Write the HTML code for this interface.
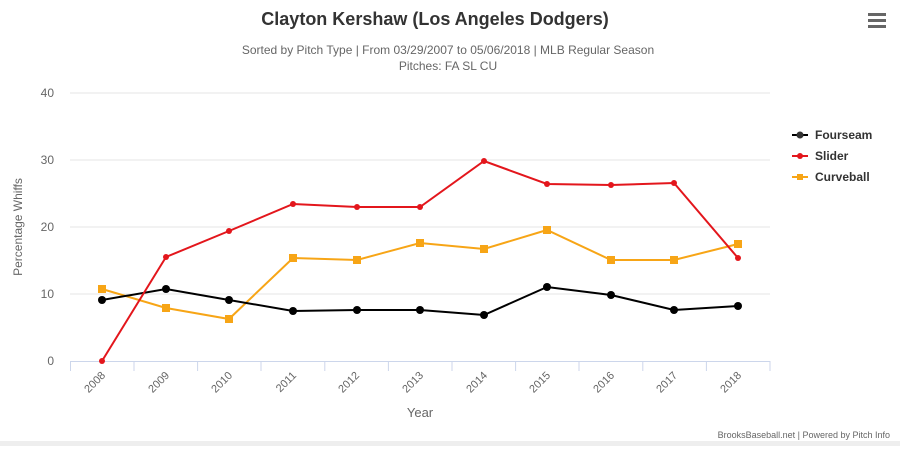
<!DOCTYPE html><html><head><style>body{margin:0;background:#fff;width:900px;height:446px;overflow:hidden;font-family:"Liberation Sans",sans-serif}</style></head><body>
<svg width="900" height="446" xmlns="http://www.w3.org/2000/svg" font-family="Liberation Sans, sans-serif">
<rect x="0" y="441" width="900" height="5" fill="#eee"/>
<text x="435" y="25" text-anchor="middle" font-size="18" font-weight="bold" fill="#333">Clayton Kershaw (Los Angeles Dodgers)</text>
<text x="448" y="54" text-anchor="middle" font-size="12" fill="#666">Sorted by Pitch Type | From 03/29/2007 to 05/06/2018 | MLB Regular Season</text>
<text x="448" y="70" text-anchor="middle" font-size="12" fill="#666">Pitches: FA SL CU</text>
<g fill="#666"><rect x="868" y="13" width="18" height="3"/><rect x="868" y="19" width="18" height="3"/><rect x="868" y="25" width="18" height="3"/></g>
<g stroke="#e6e6e6" stroke-width="1"><line x1="70" x2="770" y1="93" y2="93"/><line x1="70" x2="770" y1="160" y2="160"/><line x1="70" x2="770" y1="227" y2="227"/><line x1="70" x2="770" y1="294" y2="294"/></g>
<line x1="70" x2="770" y1="361.5" y2="361.5" stroke="#ccd6eb"/>
<g stroke="#ccd6eb"><line x1="70.5" x2="70.5" y1="361" y2="371"/><line x1="134" x2="134" y1="361" y2="371"/><line x1="197.6" x2="197.6" y1="361" y2="371"/><line x1="261" x2="261" y1="361" y2="371"/><line x1="324.8" x2="324.8" y1="361" y2="371"/><line x1="388.4" x2="388.4" y1="361" y2="371"/><line x1="452" x2="452" y1="361" y2="371"/><line x1="515.6" x2="515.6" y1="361" y2="371"/><line x1="579" x2="579" y1="361" y2="371"/><line x1="642.8" x2="642.8" y1="361" y2="371"/><line x1="706.4" x2="706.4" y1="361" y2="371"/><line x1="770" x2="770" y1="361" y2="371"/></g>
<g font-size="12" fill="#666" text-anchor="end"><text x="54" y="97">40</text><text x="54" y="164">30</text><text x="54" y="231">20</text><text x="54" y="298">10</text><text x="54" y="365">0</text></g>
<g font-size="11" fill="#666" text-anchor="end">
<text transform="translate(106,376) rotate(-45)">2008</text><text transform="translate(170,376) rotate(-45)">2009</text><text transform="translate(233,376) rotate(-45)">2010</text><text transform="translate(297,376) rotate(-45)">2011</text><text transform="translate(360,376) rotate(-45)">2012</text><text transform="translate(424,376) rotate(-45)">2013</text><text transform="translate(488,376) rotate(-45)">2014</text><text transform="translate(551,376) rotate(-45)">2015</text><text transform="translate(615,376) rotate(-45)">2016</text><text transform="translate(678,376) rotate(-45)">2017</text><text transform="translate(742,376) rotate(-45)">2018</text></g>
<text x="420" y="417" text-anchor="middle" font-size="13" fill="#666">Year</text>
<text transform="translate(22,227) rotate(-90)" text-anchor="middle" font-size="12" fill="#666">Percentage Whiffs</text>
<polyline fill="none" stroke="#f7a516" stroke-width="2" points="102,289 166,308 229,319 293,258 357,260 420,243 484,249 547,230 611,260 674,260 738,244"/>
<g fill="#f7a516"><rect x="98" y="285" width="8" height="8"/><rect x="162" y="304" width="8" height="8"/><rect x="225" y="315" width="8" height="8"/><rect x="289" y="254" width="8" height="8"/><rect x="353" y="256" width="8" height="8"/><rect x="416" y="239" width="8" height="8"/><rect x="480" y="245" width="8" height="8"/><rect x="543" y="226" width="8" height="8"/><rect x="607" y="256" width="8" height="8"/><rect x="670" y="256" width="8" height="8"/><rect x="734" y="240" width="8" height="8"/></g>
<polyline fill="none" stroke="#000" stroke-width="2" points="102,300 166,289 229,300 293,311 357,310 420,310 484,315 547,287 611,295 674,310 738,306"/>
<g fill="#000"><circle cx="102" cy="300" r="4"/><circle cx="166" cy="289" r="4"/><circle cx="229" cy="300" r="4"/><circle cx="293" cy="311" r="4"/><circle cx="357" cy="310" r="4"/><circle cx="420" cy="310" r="4"/><circle cx="484" cy="315" r="4"/><circle cx="547" cy="287" r="4"/><circle cx="611" cy="295" r="4"/><circle cx="674" cy="310" r="4"/><circle cx="738" cy="306" r="4"/></g>
<polyline fill="none" stroke="#e3161c" stroke-width="2" points="102,361 166,257 229,231 293,204 357,207 420,207 484,161 547,184 611,185 674,183 738,258"/>
<g fill="#e3161c"><circle cx="102" cy="361" r="3"/><circle cx="166" cy="257" r="3"/><circle cx="229" cy="231" r="3"/><circle cx="293" cy="204" r="3"/><circle cx="357" cy="207" r="3"/><circle cx="420" cy="207" r="3"/><circle cx="484" cy="161" r="3"/><circle cx="547" cy="184" r="3"/><circle cx="611" cy="185" r="3"/><circle cx="674" cy="183" r="3"/><circle cx="738" cy="258" r="3"/></g>
<g font-size="12" font-weight="bold" fill="#333">
<line x1="792" x2="808" y1="135" y2="135" stroke="#000" stroke-width="2"/><circle cx="800" cy="135" r="3.5"/><text x="815" y="139">Fourseam</text>
<line x1="792" x2="808" y1="156" y2="156" stroke="#e3161c" stroke-width="2"/><circle cx="800" cy="156" r="3" fill="#e3161c"/><text x="815" y="160">Slider</text>
<line x1="792" x2="808" y1="177" y2="177" stroke="#f7a516" stroke-width="2"/><rect x="797" y="174" width="6" height="6" fill="#f7a516"/><text x="815" y="181">Curveball</text></g>
<text x="890" y="438" text-anchor="end" font-size="9" fill="#666">BrooksBaseball.net | Powered by Pitch Info</text>
</svg></body></html>
